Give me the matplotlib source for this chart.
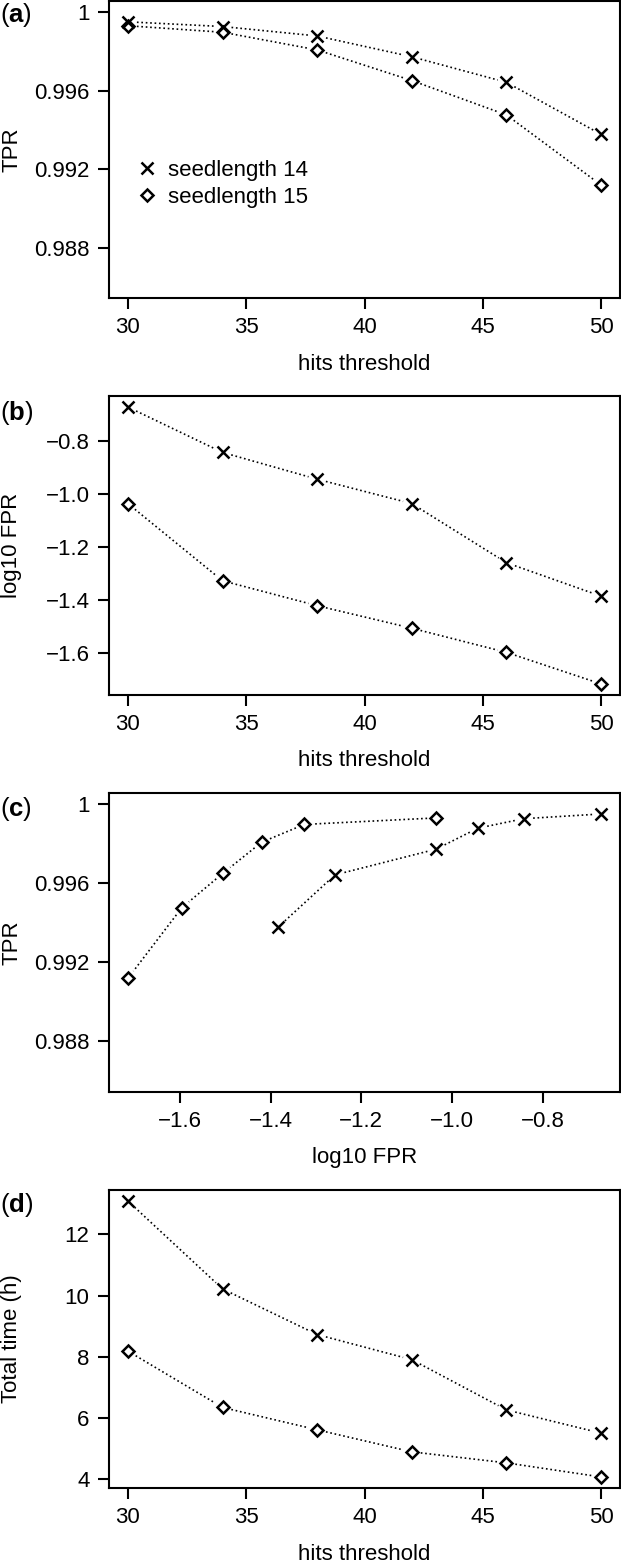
import numpy as np
import matplotlib
matplotlib.use("Agg")
import matplotlib.pyplot as plt
from matplotlib.lines import Line2D

plt.rcParams['font.family'] = ['Liberation Sans', 'DejaVu Sans']
plt.rcParams['mathtext.fontset'] = 'custom'
plt.rcParams['mathtext.bf'] = 'Liberation Sans:bold'
plt.rcParams['mathtext.rm'] = 'Liberation Sans'

# data
hits = [30, 34, 38, 42, 46, 50]
tpr14 = [0.9995, 0.99926, 0.99878, 0.99772, 0.99642, 0.99377]
tpr15 = [0.9993, 0.99897, 0.99807, 0.99651, 0.99476, 0.99119]
fpr14 = [-0.671, -0.842, -0.943, -1.035, -1.258, -1.384]
fpr15 = [-1.035, -1.326, -1.420, -1.505, -1.596, -1.715]
time14 = [13.09, 10.22, 8.73, 7.91, 6.27, 5.51]
time15 = [8.19, 6.35, 5.62, 4.90, 4.54, 4.08]

series_labels = ["seedlength 14", "seedlength 15"]
panel_tags = ["a", "b", "c", "d"]
hits_ticks = [30, 35, 40, 45, 50]
tpr_ticks = [0.988, 0.992, 0.996, 1.0]
tpr_ticklabels = ["0.988", "0.992", "0.996", "1"]
fpr_ticks = [-1.6, -1.4, -1.2, -1.0, -0.8]
time_ticks = [4, 6, 8, 10, 12]

FS = 16
W, H = 621, 1566
fig = plt.figure(figsize=(W / 100, H / 100), dpi=100)

X_STYLE = dict(ls='none', marker='x', ms=8.5, mew=1.8, color='black')
D_STYLE = dict(ls='none', marker='D', ms=6.6, mew=1.8, mfc='none', mec='black')


def r_range(lo, hi):
    d = (hi - lo) * 0.04
    return lo - d, hi + d


def gapped(ax, x, y, gap=9.0):
    # type="b" style: dotted segments that stop short of the points
    pts = ax.transData.transform(np.column_stack([x, y]))
    inv = ax.transData.inverted()
    for p, q in zip(pts[:-1], pts[1:]):
        d = q - p
        L = np.hypot(*d)
        if L <= 2 * gap:
            continue
        u = d / L
        seg = inv.transform(np.array([p + u * gap, q - u * gap]))
        ax.plot(seg[:, 0], seg[:, 1], ls=':', color='black', lw=1.2)


def make_ax(top_px, bot_px):
    left, right = 109, 620
    ax = fig.add_axes([left / W, 1 - bot_px / H, (right - left) / W, (bot_px - top_px) / H])
    for s in ax.spines.values():
        s.set_linewidth(1.5)
    ax.tick_params(direction='out', length=8, width=1.5, labelsize=FS, pad=6)
    return ax


def draw(ax, x, ys):
    gapped(ax, x, ys[0])
    gapped(ax, x, ys[1])
    ax.plot(x, ys[0], **X_STYLE)
    ax.plot(x, ys[1], **D_STYLE)


def labels(ax, xl, yl, h_px):
    ax.set_xlabel(xl, fontsize=FS, va='center')
    ax.xaxis.set_label_coords(0.5, -66 / h_px)
    ax.set_ylabel(yl, fontsize=FS, ha='center', va='center')
    ax.yaxis.set_label_coords((12 - 109) / 511, 0.5)


panels = [(1, 298), (396, 695), (793, 1092), (1190, 1488)]
tag_y = [15, 413, 809, 1205]

# (a)
ax = make_ax(*panels[0])
ax.set_xlim(r_range(30, 50))
ax.set_ylim(r_range(0.986, 1.0))
ax.set_xticks(hits_ticks)
ax.set_yticks(tpr_ticks, tpr_ticklabels)
draw(ax, hits, [tpr14, tpr15])
labels(ax, "hits threshold", "TPR", 297)
handles = [Line2D([], [], **X_STYLE), Line2D([], [], **D_STYLE)]
ax.legend(handles, series_labels, loc='upper left', bbox_to_anchor=(0.053, 0.466),
          frameon=False, fontsize=FS, handlelength=1.0, handletextpad=0.45,
          borderpad=0, borderaxespad=0, labelspacing=0.28)

# (b)
ax = make_ax(*panels[1])
ax.set_xlim(r_range(30, 50))
ax.set_ylim(r_range(min(fpr15), max(fpr14)))
ax.set_xticks(hits_ticks)
ax.set_yticks(fpr_ticks, [f"{v:.1f}".replace("-", "\u2212") for v in fpr_ticks])
draw(ax, hits, [fpr14, fpr15])
labels(ax, "hits threshold", "log10 FPR", 299)

# (c)
ax = make_ax(*panels[2])
ax.set_xlim(r_range(min(fpr15), max(fpr14)))
ax.set_ylim(r_range(0.986, 1.0))
ax.set_xticks(fpr_ticks, [f"{v:.1f}".replace("-", "\u2212") for v in fpr_ticks])
ax.set_yticks(tpr_ticks, tpr_ticklabels)
gapped(ax, fpr14, tpr14)
gapped(ax, fpr15, tpr15)
ax.plot(fpr14, tpr14, **X_STYLE)
ax.plot(fpr15, tpr15, **D_STYLE)
labels(ax, "log10 FPR", "TPR", 299)

# (d)
ax = make_ax(*panels[3])
ax.set_xlim(r_range(30, 50))
ax.set_ylim(r_range(min(time15), max(time14)))
ax.set_xticks(hits_ticks)
ax.set_yticks(time_ticks)
draw(ax, hits, [time14, time15])
labels(ax, "hits threshold", "Total time (h)", 298)

for tag, ty in zip(panel_tags, tag_y):
    fig.text(0.0, 1 - ty / H, r"($\mathbf{" + tag + r"}$)", fontsize=18.5,
             ha='left', va='center')

fig.savefig("out.png", dpi=100)
